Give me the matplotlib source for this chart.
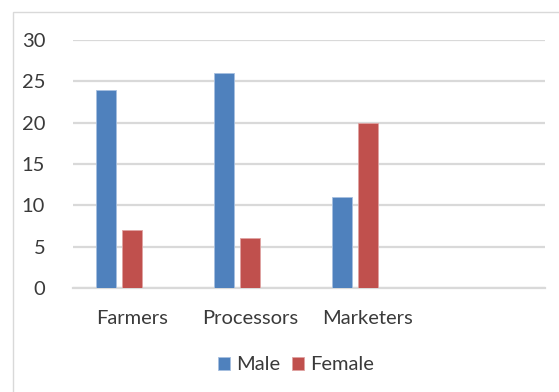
import numpy as np
import matplotlib
matplotlib.use("Agg")
import matplotlib.pyplot as plt
from matplotlib.patches import Rectangle

# Data
categories = ["Farmers", "Processors", "Marketers", ""]
male = [24, 26, 11]
female = [7, 6, 20]
y_ticks = [0, 5, 10, 15, 20, 25, 30]

W, H = 559, 392
plt.rcParams["font.family"] = ["Lato", "DejaVu Sans"]
text_color = "#3a3a3a"
grid_color = "#d9d9d9"
blue = "#4f81bd"
red = "#c0504d"
fs = 14.5

fig = plt.figure(figsize=(W / 100, H / 100), dpi=100)
fig.patch.set_facecolor("white")

# chart area outline (left and top edges visible)
fig.add_artist(Rectangle((13 / W, -0.2), 1.5, (H - 11.5) / H + 0.2,
                         transform=fig.transFigure, fill=False,
                         edgecolor=grid_color, lw=1.0))

ax = fig.add_axes([73 / W, (H - 288) / H, (545 - 73) / W, (288 - 40) / H])

x = np.arange(len(categories))
slot = 0.221
bw = 0.174
n = len(male)
ax.bar(x[:n] - slot, male, width=bw, color=blue, edgecolor="#a7c0e0",
       linewidth=0.6, label="Male", zorder=3)
ax.bar(x[:n], female, width=bw, color=red, edgecolor="#e0a3a2",
       linewidth=0.6, label="Female", zorder=3)

ax.set_xlim(-0.5, len(categories) - 0.5)
ax.set_ylim(0, 30)
ax.set_yticks(y_ticks)
ax.set_xticks(x)
ax.set_xticklabels(categories)
ax.yaxis.grid(True, color=grid_color, linewidth=1.6, zorder=0)
ax.set_axisbelow(True)
for s in ["top", "right", "left"]:
    ax.spines[s].set_visible(False)
ax.spines["bottom"].set_color(grid_color)
ax.spines["bottom"].set_linewidth(1.6)
ax.tick_params(axis="both", length=0, labelsize=fs, colors=text_color)
ax.tick_params(axis="y", pad=20)
ax.tick_params(axis="x", pad=15.5)
ax.set_facecolor("white")

fig.legend(loc="center", bbox_to_anchor=(296 / W, 27 / H), ncol=2, frameon=False,
           fontsize=fs, handlelength=0.6, handleheight=0.6,
           handletextpad=0.3, columnspacing=0.55, labelcolor=text_color)

fig.savefig("out.png", dpi=100)
